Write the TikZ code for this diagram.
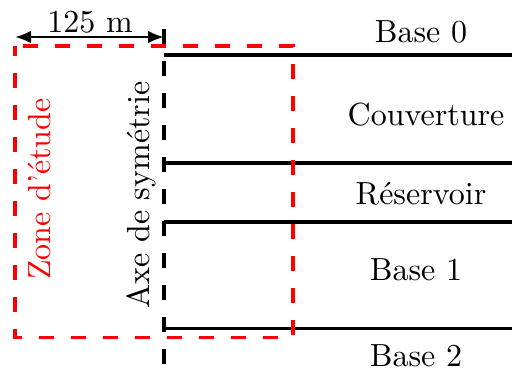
\documentclass[tikz,border=0pt]{standalone}
\usetikzlibrary{arrows.meta}
\begin{document}
\begin{tikzpicture}[x=0.3125pt,y=-0.3125pt,
  layer/.style={line width=0.95pt},
  axis/.style={line width=0.95pt,dash pattern=on 4.8pt off 5.2pt},
  zone/.style={red,line width=0.95pt,dash pattern=on 4.8pt off 5.2pt,dash phase=1.6pt},
  lbl/.style={inner sep=0pt}]
\useasboundingbox (0,0) rectangle (512,372);
% layer boundaries
\coordinate (l0) at (164,55);  \coordinate (r0) at (512,55);
\coordinate (l1) at (164,163); \coordinate (r1) at (512,163);
\coordinate (l2) at (164,222); \coordinate (r2) at (512,222);
\coordinate (l3) at (164,328); \coordinate (r3) at (512,328);
\draw[layer] (l0) -- (r0);
\draw[layer] (l1) -- (r1);
\draw[layer] (l2) -- (r2);
\draw[layer] (l3) -- (r3);
% symmetry axis
\coordinate (at) at (164,29);
\coordinate (ab) at (164,364);
\draw[axis] (at) -- (ab);
% study zone
\coordinate (z1) at (15,46);
\coordinate (z2) at (293,337);
\draw[zone] (z1) rectangle (z2);
% width dimension
\coordinate (d1) at (15,37);
\coordinate (d2) at (164,37);
\draw[line width=0.8pt,{Latex[length=5pt,width=4pt]}-{Latex[length=5pt,width=4pt]}] (d1) -- (d2);
\node[lbl] (w) at (90,22) {125 m};
% layer names
\node[lbl] (b0) at (421,32) {Base 0};
\node[lbl] (cv) at (426,115) {Couverture};
\node[lbl] (rs) at (421,194) {Réservoir};
\node[lbl] (b1) at (416,270) {Base 1};
\node[lbl] (b2) at (416,356) {Base 2};
% vertical labels
\node[lbl,red,rotate=90] (zn) at (40,189) {Zone d'étude};
\node[lbl,rotate=90] (ax) at (141,195) {Axe de symétrie};
\end{tikzpicture}
\end{document}
